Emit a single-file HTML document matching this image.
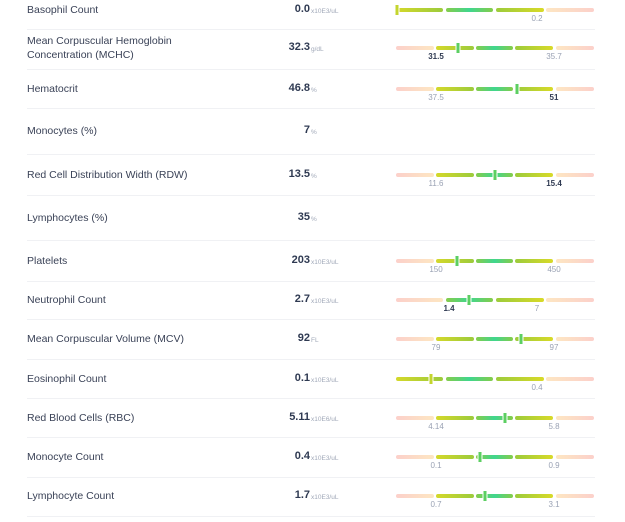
<!DOCTYPE html>
<html><head><meta charset="utf-8"><style>
body{margin:0;width:625px;height:522px;background:#fff;font-family:"Liberation Sans",sans-serif;position:relative;overflow:hidden}
.lbl{position:absolute;left:27px;font-size:10.5px;color:#3a4257;line-height:14px}
.val{position:absolute;right:315px;font-size:11px;font-weight:bold;color:#2f3a52;text-align:right}
.unit{position:absolute;left:311px;font-size:6.5px;color:#a0a8b8}
.sep{position:absolute;left:27px;width:568px;height:1px;background:#f0f1f4}
.seg{position:absolute;height:4px;border-radius:2px}
.tk{position:absolute;font-size:8px;color:#9aa2b4;transform:translateX(-50%)}
.tk.b{color:#2f3a52;font-weight:bold}
.mk{position:absolute;width:3px;height:10px;border-radius:1px;border-left:1.5px solid #fff;border-right:1.5px solid #fff;transform:translateX(-50%)}
</style></head><body>
<script>
const names=["Basophil Count","Mean Corpuscular Hemoglobin<br>Concentration (MCHC)","Hematocrit","Monocytes (%)","Red Cell Distribution Width (RDW)","Lymphocytes (%)","Platelets","Neutrophil Count","Mean Corpuscular Volume (MCV)","Eosinophil Count","Red Blood Cells (RBC)","Monocyte Count","Lymphocyte Count"];
const values=[0.0,32.3,46.8,7,13.5,35,203,2.7,92,0.1,5.11,0.4,1.7];
const valueText=["0.0","32.3","46.8","7","13.5","35","203","2.7","92","0.1","5.11","0.4","1.7"];
const units=["x10E3/uL","g/dL","%","%","%","%","x10E3/uL","x10E3/uL","FL","x10E3/uL","x10E6/uL","x10E3/uL","x10E3/uL"];
const lows=[0,31.5,37.5,null,11.6,null,150,1.4,79,0,4.14,0.1,0.7];
const highs=[0.2,35.7,51,null,15.4,null,450,7,97,0.4,5.8,0.9,3.1];
const lowShown=[false,true,true,false,true,false,true,true,true,false,true,true,true];
const lowBold=[false,true,false,false,false,false,false,true,false,false,false,false,false];
const highBold=[false,false,true,false,true,false,false,false,false,false,false,false,false];
</script>
<script>
const cy=[10,48,89,131,175,218,261,300,339,379,418,457,496];
const seps=[29,69,108,154,195,240,281,319,359,398,437,477,516];
const G1="linear-gradient(90deg,#d4d82a,#9ccb3c)",G2="linear-gradient(90deg,#86cc4a,#3fd68f,#86cc4a)",G3="linear-gradient(90deg,#9ccb3c,#d8da28)";
const PL="linear-gradient(90deg,#fcd0ca,#fde6c2)",PR="linear-gradient(90deg,#fde6c2,#fcd0ca)";
function add(cls,css,html){const d=document.createElement('div');d.className=cls;Object.assign(d.style,css);if(html!=null)d.innerHTML=html;document.body.appendChild(d);return d;}
names.forEach((n,i)=>{
  const lines=n.includes('<br>')?2:1;
  const l=add('lbl',{top:(cy[i]-7*lines)+'px'},n);
  
  
  const v=add('val',{top:(cy[i]-7)+'px'},valueText[i]);
  
  
  const u=add('unit',{top:(cy[i]-2)+'px'},units[i]);
  
  
  const s=add('sep',{top:seps[i]+'px'});
  
  
  if(highs[i]==null)return;
  const y=cy[i]-2;
  let segs,x0,x1;
  if(!lowShown[i]){segs=[[396,443,G1],[446,493,G2],[496,544,G3],[546,594,PR]];x0=396;x1=537;}
  else if(i===7){segs=[[396,443,PL],[446,493,G2],[496,544,G3],[546,594,PR]];x0=449;x1=537;}
  else{segs=[[396,434,PL],[436,474,G1],[476,513,G2],[515,553,G3],[556,594,PR]];x0=436;x1=554;}
  segs.forEach(sg=>{const e=add('seg',{left:sg[0]+'px',width:(sg[1]-sg[0])+'px',top:y+'px',background:sg[2]});
    
    });
  const lo=lows[i],hi=highs[i];
  const xs=v=>x0+(v-lo)/(hi-lo)*(x1-x0);
  if(lowShown[i]){const t=add('tk'+(lowBold[i]?' b':''),{left:x0+'px',top:(cy[i]+4)+'px'},String(lo));
    
    }
  const t2=add('tk'+(highBold[i]?' b':''),{left:x1+'px',top:(cy[i]+4)+'px'},String(hi));
  
  
  const mx=Math.max(397,Math.min(594,xs(values[i])));
  const m=add('mk',{left:mx+'px',top:(cy[i]-5)+'px',background:(mx<445||mx>530)?'#c4d52e':'#5ccf62'});
  
  
});
</script>
</body></html>
